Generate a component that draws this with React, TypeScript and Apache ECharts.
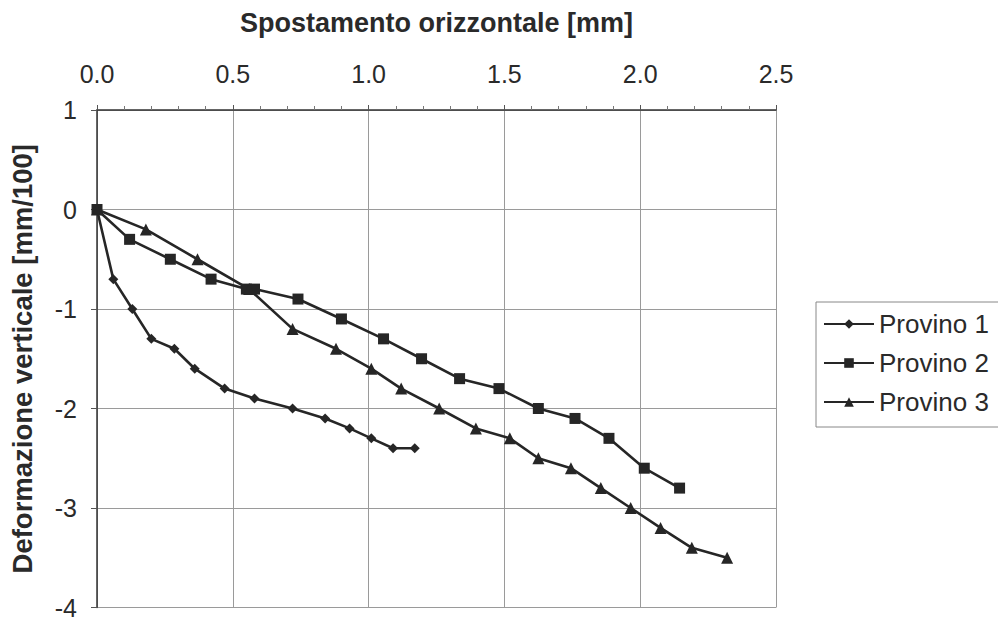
import React, { useEffect, useRef } from "react";
import * as echarts from "echarts";

const seriesNames = ["Provino 1", "Provino 2", "Provino 3"];

const provino1X = [0, 0.06, 0.13, 0.2, 0.285, 0.36, 0.47, 0.58, 0.72, 0.84, 0.93, 1.01, 1.09, 1.17];
const provino1Y = [0, -0.7, -1.0, -1.3, -1.4, -1.6, -1.8, -1.9, -2.0, -2.1, -2.2, -2.3, -2.4, -2.4];

const provino2X = [0, 0.12, 0.27, 0.42, 0.55, 0.58, 0.74, 0.9, 1.055, 1.195, 1.335, 1.48, 1.625, 1.76, 1.885, 2.015, 2.145];
const provino2Y = [0, -0.3, -0.5, -0.7, -0.8, -0.8, -0.9, -1.1, -1.3, -1.5, -1.7, -1.8, -2.0, -2.1, -2.3, -2.6, -2.8];

const provino3X = [0, 0.18, 0.37, 0.56, 0.72, 0.88, 1.01, 1.12, 1.26, 1.395, 1.52, 1.625, 1.745, 1.855, 1.965, 2.075, 2.19, 2.32];
const provino3Y = [0, -0.2, -0.5, -0.8, -1.2, -1.4, -1.6, -1.8, -2.0, -2.2, -2.3, -2.5, -2.6, -2.8, -3.0, -3.2, -3.4, -3.5];

const xTitle = "Spostamento orizzontale [mm]";
const yTitle = "Deformazione verticale [mm/100]";

const zip = (xs: number[], ys: number[]) => xs.map((x, i) => [x, ys[i]]);

export default function App() {
  const ref = useRef<HTMLDivElement>(null);
  useEffect(() => {
    if (!ref.current) return;
    const chart = echarts.init(ref.current, null, { renderer: "svg" });
    const font = "'Liberation Sans', Arial, sans-serif";
    const lineColor = "#262626";
    const textColor = "#2a2a2a";
    const mk = (name: string, data: number[][], symbol: string, size: number) => ({
      name,
      type: "line",
      data,
      symbol,
      symbolSize: size,
      showSymbol: true,
      lineStyle: { color: lineColor, width: 2.6 },
      itemStyle: { color: lineColor },
      emphasis: { disabled: true },
    });
    chart.setOption({
      animation: false,
      backgroundColor: "#fff",
      textStyle: { fontFamily: font },
      grid: { left: 97, right: 222, top: 110, bottom: 8, containLabel: false },
      xAxis: {
        type: "value",
        position: "top",
        min: 0,
        max: 2.5,
        interval: 0.5,
        name: xTitle,
        nameLocation: "middle",
        nameGap: 74,
        nameTextStyle: { fontSize: 27, fontWeight: "bold", color: textColor, fontFamily: font },
        axisLine: { show: true, onZero: false, lineStyle: { color: "#333", width: 1.5 } },
        axisTick: { show: true, length: 5, lineStyle: { color: "#555" } },
        minorTick: { show: true, splitNumber: 5, length: 4, lineStyle: { color: "#777" } },
        axisLabel: {
          fontSize: 25,
          color: textColor,
          margin: 24,
          fontFamily: font,
          formatter: (v: number) => v.toFixed(1),
        },
        splitLine: { show: true, lineStyle: { color: "#9a9a9a", width: 1 } },
      },
      yAxis: {
        type: "value",
        min: -4,
        max: 1,
        interval: 1,
        name: yTitle,
        nameLocation: "middle",
        nameGap: 61,
        nameTextStyle: { fontSize: 27.5, fontWeight: "bold", color: textColor, fontFamily: font },
        axisLine: { show: true, onZero: false, lineStyle: { color: "#333", width: 1.5 } },
        axisTick: { show: true, length: 6, lineStyle: { color: "#555" } },
        axisLabel: { fontSize: 25, color: textColor, margin: 20, fontFamily: font },
        splitLine: { show: true, lineStyle: { color: "#9a9a9a", width: 1 } },
      },
      legend: {
        orient: "vertical",
        left: 816,
        top: 302,
        padding: [9, 20, 12, 7],
        borderColor: "#888",
        borderWidth: 1,
        itemWidth: 50,
        itemHeight: 12,
        itemGap: 13,
        textStyle: { fontSize: 26, color: textColor, fontFamily: font },
        data: seriesNames,
      },
      series: [
        mk(seriesNames[0], zip(provino1X, provino1Y), "diamond", 10),
        mk(seriesNames[1], zip(provino2X, provino2Y), "rect", 11),
        mk(seriesNames[2], zip(provino3X, provino3Y), "triangle", 12),
      ],
    });
    return () => chart.dispose();
  }, []);
  return (
    <div
      ref={ref}
      style={{ position: "fixed", left: 0, top: 0, width: 998, height: 620, background: "#fff" }}
    />
  );
}
